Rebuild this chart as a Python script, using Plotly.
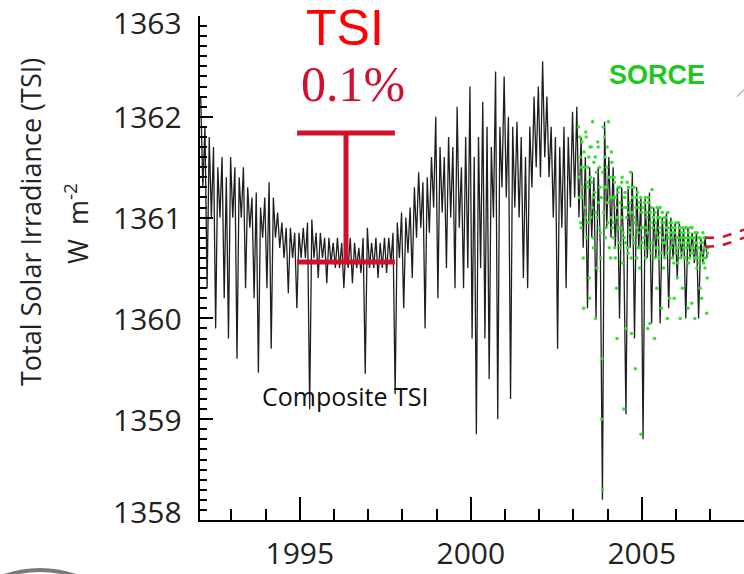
import numpy as np
import plotly.graph_objects as go

# ---------------- data ----------------
composite_start = 1992.10          # decimal year of first composite sample
composite_step = 1.0 / 16.0        # sample spacing in years
composite_tsi = [
    # 1992.1 - 1993.1
    1362.2, 1361.3, 1361.9, 1360.3, 1361.8, 1361.0, 1361.7, 1359.9,
    1361.5, 1361.0, 1361.6, 1360.2, 1361.4, 1359.8, 1361.6, 1361.0,
    # 1993.1 - 1994.1
    1361.5, 1359.6, 1361.4, 1361.0, 1361.5, 1360.3, 1361.3, 1360.9,
    1361.2, 1360.2, 1361.25, 1359.46, 1361.1, 1360.8, 1361.2, 1360.3,
    # 1994.1 - 1995.1
    1361.35, 1359.7, 1361.2, 1360.8, 1361.05, 1360.7, 1360.95, 1360.6,
    1360.9, 1360.25, 1360.9, 1360.6, 1360.85, 1360.1, 1360.85, 1360.6,
    # 1995.1 - 1996.1
    1360.9, 1360.6, 1360.95, 1359.1, 1360.98, 1360.6, 1360.85, 1360.4,
    1360.85, 1360.6, 1360.8, 1360.35, 1360.8, 1360.55, 1360.75, 1360.5,
    # 1996.1 - 1997.1
    1360.8, 1360.5, 1360.75, 1360.3, 1360.75, 1360.5, 1360.8, 1360.35,
    1360.75, 1360.5, 1360.7, 1360.45, 1360.8, 1359.45, 1360.9, 1360.5,
    # 1997.1 - 1998.1
    1360.75, 1360.5, 1360.8, 1360.4, 1360.75, 1360.5, 1360.8, 1360.45,
    1360.8, 1360.55, 1360.85, 1359.25, 1360.95, 1360.6, 1361.05, 1360.1,
    # 1998.1 - 1999.1
    1361.0, 1360.65, 1361.1, 1360.4, 1361.3, 1360.8, 1361.45, 1360.9,
    1361.35, 1359.9, 1361.4, 1360.85, 1361.6, 1361.1, 1362.0, 1360.2,
    # 1999.1 - 2000.1
    1361.7, 1361.05, 1361.6, 1360.5, 1361.8, 1361.0, 1361.7, 1360.3,
    1362.1, 1360.9, 1361.5, 1360.3, 1361.8, 1360.5, 1362.3, 1359.8,
    # 2000.1 - 2001.1
    1361.6, 1358.85, 1361.8, 1360.5, 1362.15, 1359.8, 1361.9, 1359.4,
    1361.7, 1361.0, 1362.45, 1359.0, 1361.9, 1361.3, 1362.4, 1361.2,
    # 2001.1 - 2002.1
    1362.0, 1359.2, 1361.9, 1361.1, 1361.95, 1361.0, 1361.8, 1360.4,
    1361.6, 1360.3, 1361.9, 1361.3, 1362.2, 1361.5, 1362.3, 1361.4,
    # 2002.1 - 2003.1
    1362.55, 1361.6, 1362.2, 1361.4, 1361.9, 1361.0, 1361.8, 1359.7,
    1361.7, 1360.9, 1361.9, 1360.3, 1361.8, 1361.1, 1362.05, 1361.2,
    # 2003.1 - 2004.1
    1362.1, 1361.0, 1361.8, 1360.7, 1361.6, 1360.1, 1361.5, 1360.8,
    1361.4, 1360.0, 1361.5, 1360.7, 1358.2, 1361.95, 1360.9, 1361.6,
    # 2004.1 - 2005.1
    1360.8, 1361.5, 1360.7, 1361.3, 1360.0, 1361.3, 1360.65, 1359.05,
    1361.3, 1360.7, 1361.45, 1359.8, 1361.3, 1360.7, 1361.2, 1358.8,
    # 2005.1 - 2006.1
    1361.2, 1360.6, 1361.25, 1359.95, 1361.1, 1360.6, 1361.1, 1359.95,
    1361.0, 1360.6, 1361.05, 1360.1, 1361.0, 1360.6, 1360.95, 1360.4,
    # 2006.1 - 2006.9
    1360.95, 1360.6, 1360.9, 1360.0, 1360.9, 1360.6, 1360.85, 1360.55,
    1360.85, 1360.0, 1360.8, 1360.55, 1360.8, 1360.6,
]

sorce_start = 2003.15
sorce_step = 0.025
sorce_tsi = [
    # 2003.15 - 2003.8
    1361.9, 1361.2, 1361.6, 1360.9, 1361.75, 1361.3, 1360.1, 1361.5, 1361.0,
    1361.8, 1361.35, 1360.95, 1361.6, 1360.2, 1361.4, 1361.7, 1361.1, 1360.8,
    1361.55, 1361.25, 1360.0, 1361.45, 1361.0, 1361.7, 1360.9, 1361.3,
    # 2003.8 - 2004.15
    1360.6, 1359.0, 1358.3, 1361.9, 1361.3, 1361.6, 1360.9, 1361.5, 1361.15,
    1361.95, 1360.7, 1361.4, 1361.0, 1361.55,
    # 2004.15 - 2005.05
    1361.2, 1360.8, 1361.35, 1360.6, 1361.1, 1359.8, 1361.25, 1360.9, 1361.3,
    1360.7, 1361.0, 1361.4, 1360.85, 1359.1, 1361.2, 1360.75, 1361.1, 1361.35,
    1360.65, 1361.05, 1360.9, 1361.45, 1359.85, 1361.2, 1360.8, 1361.3, 1360.95,
    1361.1, 1360.6, 1361.25, 1360.85, 1361.15, 1360.7, 1358.85, 1361.05, 1360.9,
    # 2005.05 - 2005.85
    1361.1, 1360.7, 1361.2, 1360.9, 1361.0, 1359.9, 1361.15, 1360.75, 1361.05,
    1360.65, 1361.28, 1360.9, 1361.0, 1359.8, 1360.95, 1360.7, 1361.1, 1360.8,
    1360.6, 1361.0, 1360.85, 1360.1, 1361.05, 1360.75, 1360.95, 1360.6, 1361.0,
    1360.85, 1360.0, 1360.9, 1360.7, 1360.95,
    # 2005.85 - 2006.93
    1360.8, 1360.95, 1360.6, 1360.85, 1360.2, 1360.9, 1360.7, 1360.8, 1360.55,
    1360.95, 1360.75, 1360.0, 1360.85, 1360.65, 1360.9, 1360.7, 1360.8, 1360.6,
    1360.9, 1360.75, 1360.1, 1360.85, 1360.6, 1360.8, 1360.7, 1360.9, 1360.65,
    1360.8, 1360.0, 1360.75, 1360.6, 1360.85, 1360.7, 1360.55, 1360.8, 1360.65,
    1360.2, 1360.75, 1360.6, 1360.8, 1360.5, 1360.7, 1360.05, 1360.65,
]

# SORCE samples from the in-between days (offset by half a step)
sorce_alt_start = 2003.1625
sorce_tsi_alt = [
    1361.4, 1361.8, 1360.95, 1361.5, 1361.2, 1360.6, 1361.65, 1361.1, 1361.85,
    1360.8, 1361.5, 1361.3, 1360.4, 1361.7, 1361.0, 1361.35, 1361.95, 1360.7,
    1361.2, 1361.6, 1361.05, 1360.5, 1361.75, 1361.15, 1361.5, 1360.85,
    1361.2, 1359.6, 1361.45, 1361.05, 1361.8, 1360.8, 1361.3, 1361.7, 1360.95,
    1361.4, 1361.2, 1360.6, 1361.65, 1360.9,
    1360.95, 1361.4, 1360.7, 1361.2, 1360.3, 1361.0, 1361.3, 1360.75, 1361.15,
    1360.9, 1361.35, 1360.55, 1361.1, 1360.8, 1361.25, 1359.9, 1361.0, 1360.7,
    1361.3, 1360.85, 1361.15, 1360.6, 1361.05, 1361.3, 1360.75, 1361.0, 1359.5,
    1361.2, 1360.9, 1360.7, 1361.1, 1360.5, 1361.2, 1360.9, 1360.75, 1361.1,
    1360.8, 1361.15, 1360.6, 1361.05, 1360.85, 1361.2, 1360.7, 1359.95, 1360.95,
    1361.1, 1360.75, 1361.0, 1360.6, 1361.05, 1360.85, 1360.3, 1361.0, 1360.7,
    1360.9, 1361.1, 1360.65, 1360.95, 1360.8, 1360.5, 1361.0, 1360.75, 1360.9,
    1360.65, 1361.05, 1360.8, 1360.2, 1360.85,
    1360.7, 1360.9, 1360.75, 1360.55, 1360.85, 1360.65, 1360.95, 1360.4, 1360.8,
    1360.7, 1360.9, 1360.6, 1360.8, 1360.3, 1360.75, 1360.85, 1360.6, 1360.9,
    1360.7, 1360.8, 1360.55, 1360.75, 1360.9, 1360.65, 1360.15, 1360.8, 1360.7,
    1360.6, 1360.85, 1360.75, 1360.5, 1360.7, 1360.8, 1360.6, 1360.3, 1360.75,
    1360.65, 1360.85, 1360.55, 1360.7, 1360.6, 1360.8, 1360.4, 1360.7,
]

# 0.1 % range bar (solar-minimum level to solar-maximum level)
range_year = 1996.35
range_span = [1994.92, 1997.78]
range_low = 1360.56
range_high = 1361.84

# red dashed projections at the right edge
projection_years = [2006.85, 2007.3, 2007.99]
projection_upper = [1360.80, 1360.80, 1360.88]
projection_lower = [1360.71, 1360.72, 1360.80]

y_ticks = [1358, 1359, 1360, 1361, 1362, 1363]
y_tick_labels = ["1358", "1359", "1360", "1361", "1362", "1363"]
x_ticks = [1995, 2000, 2005]

# ---------------- figure ----------------
composite_years = composite_start + composite_step * np.arange(len(composite_tsi))
sorce_years = np.concatenate([
    sorce_start + sorce_step * np.arange(len(sorce_tsi)),
    sorce_alt_start + sorce_step * np.arange(len(sorce_tsi_alt))])
sorce_values = list(sorce_tsi) + list(sorce_tsi_alt)

CRIMSON = "#d0102c"
fig = go.Figure()

fig.add_trace(go.Scatter(
    x=composite_years, y=composite_tsi, mode="lines",
    line=dict(color="#1e1e1e", width=1.3), hoverinfo="skip", showlegend=False))

fig.add_trace(go.Scatter(
    x=sorce_years, y=sorce_values, mode="markers",
    marker=dict(color="#33e033", size=3.5, line=dict(width=0)),
    hoverinfo="skip", showlegend=False))

for ys in (projection_upper, projection_lower):
    fig.add_trace(go.Scatter(
        x=projection_years, y=ys, mode="lines",
        line=dict(color=CRIMSON, width=2.5, dash="dash"),
        hoverinfo="skip", showlegend=False))

# range bar
fig.add_trace(go.Scatter(
    x=[range_year, range_year, None, range_span[0], range_span[1], None,
       range_span[0], range_span[1]],
    y=[range_low, range_high, None, range_high, range_high, None,
       range_low, range_low],
    mode="lines", line=dict(color=CRIMSON, width=5),
    hoverinfo="skip", showlegend=False))

fig.add_annotation(x=1996.32, y=1362.88, text="TSI", showarrow=False,
                   font=dict(family="Liberation Sans, Arial", size=50, color="#ff0000"))
fig.add_annotation(x=1996.55, y=1362.33, text="0.1%", showarrow=False,
                   font=dict(family="Liberation Serif, Times New Roman", size=50, color=CRIMSON))
fig.add_annotation(x=2005.44, y=1362.41, text="<b>SORCE</b>", showarrow=False,
                   font=dict(family="Liberation Sans, Arial", size=27, color="#1ec81e"))
fig.add_annotation(x=1996.31, y=1359.23, text="Composite TSI", showarrow=False,
                   font=dict(family="Open Sans", size=25, color="#111111"))

# y tick labels (the end labels sit slightly inside the axis span, as in the original)
tickfont = dict(family="Open Sans", size=30, color="#222222")
for val, lab in zip(y_ticks, y_tick_labels):
    shift = -6 if val == y_ticks[-1] else (9 if val == y_ticks[0] else 0)
    fig.add_annotation(xref="paper", yref="y", x=(184 - 200) / 544, y=val,
                       xanchor="right", yanchor="middle", yshift=shift,
                       text=lab, showarrow=False, font=tickfont)

# y-axis title (two lines)
fig.add_annotation(xref="paper", yref="paper", x=(30 - 200) / 544, y=(520 - 222) / 504,
                   xanchor="center", yanchor="middle",
                   text="Total Solar Irradiance (TSI)", textangle=-90, showarrow=False,
                   font=dict(family="Open Sans", size=27, color="#222222"))
fig.add_annotation(xref="paper", yref="paper", x=(76 - 200) / 544, y=(520 - 224) / 504,
                   xanchor="center", yanchor="middle",
                   text="W  m<sup>-2</sup>", textangle=-90, showarrow=False,
                   font=dict(family="Open Sans", size=27, color="#222222"))

# decorative fragments at the edges of the original figure
fig.add_shape(type="circle", xref="paper", yref="paper",
              x0=(40 - 110 - 200) / 544, x1=(40 + 110 - 200) / 544,
              y0=(520 - 680 - 110) / 504, y1=(520 - 680 + 110) / 504,
              line=dict(color="#7a7a7a", width=4))
fig.add_shape(type="line", xref="x", yref="y", x0=2007.78, y0=1362.20,
              x1=2008.0, y1=1362.27, line=dict(color="#bbbbbb", width=1.5))

fig.update_xaxes(
    range=[1992.08, 2007.99], showgrid=False, zeroline=False, automargin=False,
    showline=True, linecolor="black", linewidth=2,
    tickmode="array", tickvals=x_ticks, ticks="inside", ticklen=23, tickwidth=2,
    tickcolor="black", tickfont=tickfont, ticklabelstandoff=6,
    ticklabeloverflow="allow",
    minor=dict(dtick=1, tick0=1990, ticks="inside", ticklen=11, tickwidth=2,
               tickcolor="black", showgrid=False))
fig.update_yaxes(
    range=[1358, 1363], showgrid=False, zeroline=False, automargin=False,
    showline=True, linecolor="black", linewidth=2,
    tickmode="array", tickvals=y_ticks, ticks="inside", ticklen=13, tickwidth=2,
    tickcolor="black", showticklabels=False,
    minor=dict(dtick=0.1, tick0=1358, ticks="inside", ticklen=7, tickwidth=2,
               tickcolor="black", showgrid=False))

fig.update_layout(
    width=744, height=574, margin=dict(l=200, r=0, t=16, b=54),
    plot_bgcolor="white", paper_bgcolor="white", showlegend=False)

# remove the browser's default 8px page margin so the figure sits at the window origin
fig.write_html("out.html", config={"displayModeBar": False},
               post_script="document.body.style.margin='0';document.body.style.overflow='hidden';")
